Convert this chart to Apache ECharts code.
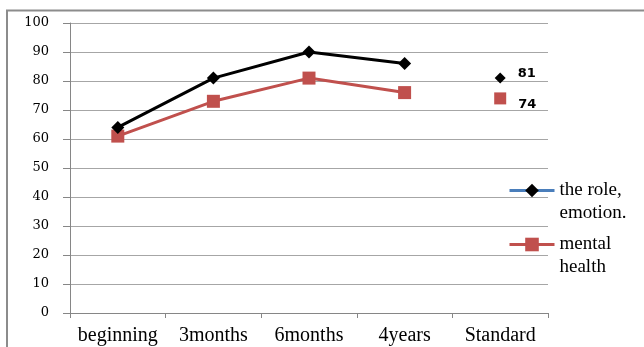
<!DOCTYPE html>
<html><head><meta charset="utf-8">
<script src="https://cdn.jsdelivr.net/npm/echarts@6/dist/echarts.min.js"></script>
<style>html,body{margin:0;padding:0;background:#fff}#c{width:644px;height:347px}</style>
</head><body><div id="c"></div>
<script>
var categories = ['beginning', '3months', '6months', '4years', 'Standard'];
var yTicks = [0, 10, 20, 30, 40, 50, 60, 70, 80, 90, 100];
var roleEmotion = [64, 81, 90, 86, '-'];
var mentalHealth = [61, 73, 81, 76, '-'];
var roleStandard = ['-', '-', '-', '-', 81];
var mentalStandard = ['-', '-', '-', '-', 74];
var seriesNames = ['the role, emotion.', 'mental health'];
var legendText = {'the role, emotion.': '\nthe role,\nemotion.', 'mental health': '\nmental\nhealth'};

function legendFor(i, top, lineColor, symColor) {
  return {
    orient: 'vertical', left: 503, top: top, itemWidth: 45, itemHeight: 17, itemGap: 0,
    data: [{name: seriesNames[i], itemStyle: {color: symColor}, lineStyle: {color: lineColor, width: 3}}],
    formatter: function (n) { return legendText[n]; },
    textStyle: {fontFamily: 'Liberation Serif', fontSize: 19, color: '#000', lineHeight: 23}
  };
}

var chart = echarts.init(document.getElementById('c'));
chart.setOption({
  animation: false,
  backgroundColor: '#fff',
  graphic: [{type: 'polyline', shape: {points: [[7, 400], [7, 10.5], [700, 10.5]]}, style: {stroke: '#8c8c8c', lineWidth: 2, fill: null}, z: 0}],
  grid: {left: 70, top: 23, right: 96, bottom: 34},
  legend: [legendFor(0, 151, '#4a7ebb', '#000'), legendFor(1, 205, '#c0504d', '#c0504d')],
  xAxis: {
    type: 'category', data: categories, boundaryGap: true,
    axisLine: {lineStyle: {color: '#868686', width: 1}},
    axisTick: {show: true, length: 5, lineStyle: {color: '#868686'}},
    axisLabel: {interval: 0, fontFamily: 'Liberation Serif', fontSize: 20, color: '#000', margin: 13}
  },
  yAxis: {
    type: 'value', min: 0, max: 100, interval: 10,
    axisLine: {show: true, lineStyle: {color: '#868686'}},
    axisTick: {show: true, length: 7, lineStyle: {color: '#868686'}},
    splitLine: {lineStyle: {color: '#a6a6a6', width: 1}},
    axisLabel: {fontFamily: 'DejaVu Serif', fontSize: 13, color: '#000', margin: 21,
      formatter: function (v) { return yTicks.indexOf(v) >= 0 ? String(v) : ''; }}
  },
  series: [
    {name: seriesNames[0], type: 'line', data: roleEmotion, symbol: 'diamond', symbolSize: 13,
      lineStyle: {color: '#000', width: 3}, itemStyle: {color: '#000'}, z: 3},
    {name: seriesNames[1], type: 'line', data: mentalHealth, symbol: 'rect', symbolSize: 13,
      lineStyle: {color: '#c0504d', width: 3}, itemStyle: {color: '#c0504d'}, z: 2},
    {name: seriesNames[0], type: 'line', data: roleStandard, symbol: 'diamond', symbolSize: 11,
      lineStyle: {width: 0}, itemStyle: {color: '#000'},
      label: {show: true, position: 'right', distance: 12, offset: [0, -4], fontFamily: 'DejaVu Sans', fontWeight: 'bold', fontSize: 13, color: '#000'}},
    {name: seriesNames[1], type: 'line', data: mentalStandard, symbol: 'rect', symbolSize: 12,
      lineStyle: {width: 0}, itemStyle: {color: '#c0504d'},
      label: {show: true, position: 'right', distance: 12, offset: [0, 6], fontFamily: 'DejaVu Sans', fontWeight: 'bold', fontSize: 13, color: '#000'}}
  ]
});
</script></body></html>
